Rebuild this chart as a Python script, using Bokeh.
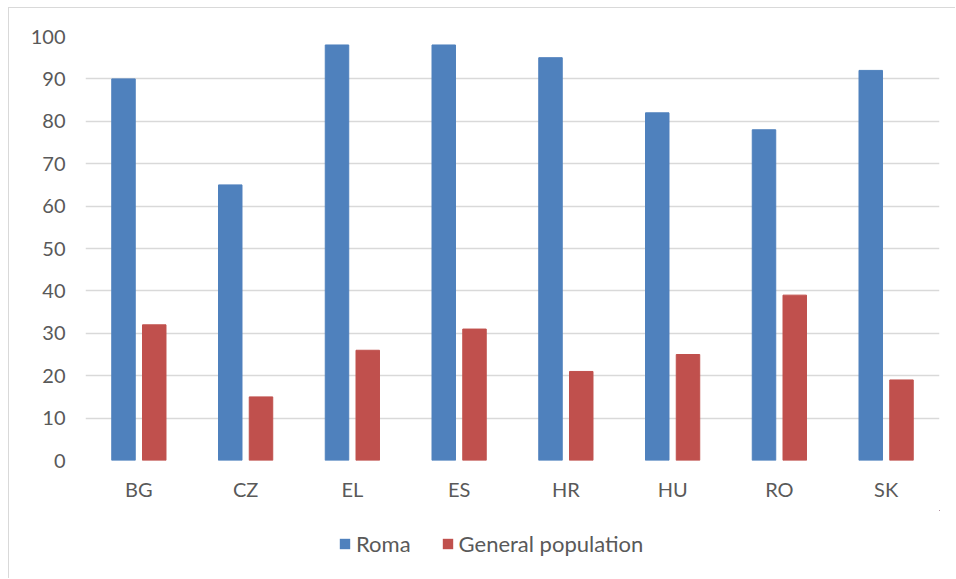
from bokeh.plotting import figure
from bokeh.layouts import column
from bokeh.models import FactorRange, Range1d, Legend, LegendItem, ColumnDataSource, FixedTicker
from bokeh.transform import dodge
from bokeh.embed import file_html
from bokeh.resources import INLINE

countries = ["BG", "CZ", "EL", "ES", "HR", "HU", "RO", "SK"]
roma = [90, 65, 98, 98, 95, 82, 78, 92]
general = [32, 15, 26, 31, 21, 25, 39, 19]
y_ticks = [0, 10, 20, 30, 40, 50, 60, 70, 80, 90, 100]
series = ["Roma", "General population"]

BLUE = "#4F81BD"
RED = "#C0504D"
FONT = "Lato"
TXT = "#595959"

src = ColumnDataSource(dict(c=countries, roma=roma, gen=general))

p = figure(width=946, height=502, x_range=FactorRange(factors=countries, range_padding=0),
           y_range=Range1d(0, 100), output_backend="svg", toolbar_location=None,
           min_border_left=76, min_border_right=16, min_border_top=28, min_border_bottom=50)

p.vbar(x=dodge("c", -0.144, range=p.x_range), top="roma", width=0.22, source=src,
       fill_color=BLUE, line_color=BLUE)
p.vbar(x=dodge("c", 0.144, range=p.x_range), top="gen", width=0.22, source=src,
       fill_color=RED, line_color=RED)

p.outline_line_color = None
p.xgrid.grid_line_color = None
p.ygrid.grid_line_color = "#d9d9d9"
p.ygrid.grid_line_width = 1.5
p.yaxis.ticker = FixedTicker(ticks=y_ticks)
for ax in (p.xaxis[0], p.yaxis[0]):
    ax.axis_line_color = None
    ax.major_tick_line_color = None
    ax.minor_tick_line_color = None
    ax.major_label_text_font = FONT
    ax.major_label_text_font_size = "20px"
    ax.major_label_text_color = TXT
p.xaxis.major_label_standoff = 10
p.yaxis.major_label_standoff = 14
p.xaxis.group_text_font_size = "0px"

# legend panel (its renderers use the same data, but fall outside this panel's ranges)
q = figure(width=946, height=68, x_range=Range1d(-1, 0), y_range=Range1d(-1, 0),
           x_axis_type=None, y_axis_type=None, output_backend="svg", toolbar_location=None,
           min_border_left=0, min_border_right=0, min_border_top=0, min_border_bottom=0)
q.outline_line_color = None
q.xgrid.grid_line_color = None
q.ygrid.grid_line_color = None
lr1 = q.vbar(x="roma", top="roma", bottom="roma", width=0.1, source=src,
             fill_color=BLUE, line_color=None)
lr2 = q.vbar(x="gen", top="gen", bottom="gen", width=0.1, source=src,
             fill_color=RED, line_color=None)
legend = Legend(items=[LegendItem(label=series[0], renderers=[lr1]),
                       LegendItem(label=series[1], renderers=[lr2])],
                orientation="horizontal", location=(253, 21),
                label_text_font=FONT, label_text_font_size="22px", label_text_color=TXT,
                glyph_width=13, glyph_height=13, spacing=30, label_standoff=5,
                background_fill_alpha=0, border_line_color=None, padding=0, margin=0)
q.add_layout(legend, "center")

layout = column(p, q, spacing=0)
layout.styles = {"border-left": "1.5px solid #d9d9d9", "border-top": "1.5px solid #d9d9d9",
                 "margin-left": "8px", "margin-top": "7px"}

open("out.html", "w").write(file_html(layout, INLINE))
